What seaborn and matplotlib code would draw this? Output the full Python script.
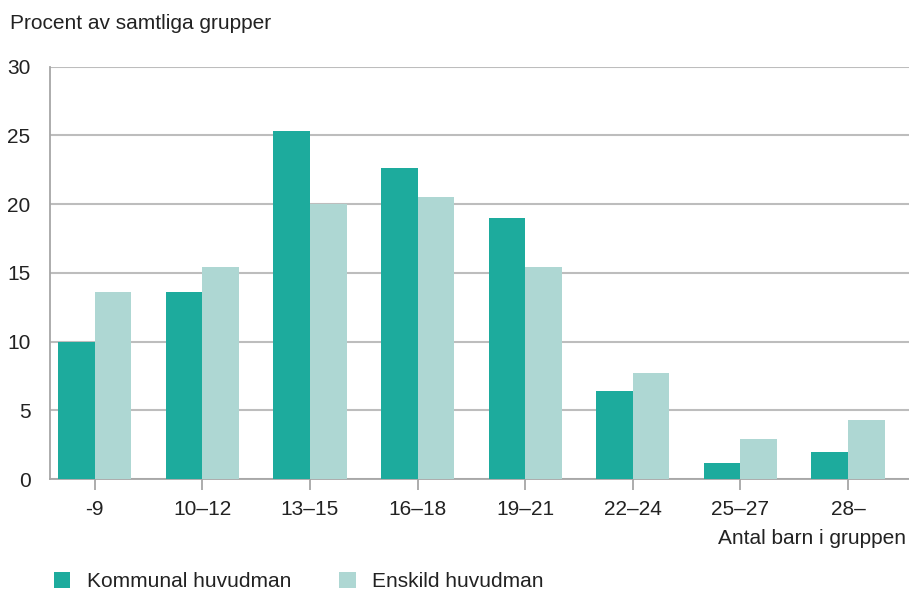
import pandas as pd
import numpy as np
import seaborn as sns
import matplotlib.pyplot as plt
from matplotlib.patches import Patch

categories = ['-9', '10–12', '13–15', '16–18', '19–21', '22–24', '25–27', '28–']
kommunal = [10.0, 13.6, 25.3, 22.6, 19.0, 6.4, 1.2, 2.0]
enskild = [13.6, 15.4, 20.0, 20.5, 15.4, 7.7, 2.9, 4.3]
series_names = ['Kommunal huvudman', 'Enskild huvudman']
colors = ['#1dab9d', '#aed7d3']

df = pd.DataFrame({
    'grupp': categories * 2,
    'procent': kommunal + enskild,
    'huvudman': [series_names[0]] * len(categories) + [series_names[1]] * len(categories),
})

sns.set_style('white')
plt.rcParams['font.family'] = ['Liberation Sans', 'DejaVu Sans']
plt.rcParams['font.size'] = 15
text_color = '#222222'

fig = plt.figure(figsize=(9.09, 5.94), dpi=100)
ax = fig.add_axes([0.055, 0.1936, 0.945, 0.694])

sns.barplot(data=df, x='grupp', y='procent', hue='huvudman', order=categories,
            hue_order=series_names, palette=colors, width=0.68, saturation=1,
            linewidth=0, edgecolor='none', legend=False, ax=ax, zorder=3)

ax.set_ylim(0, 30)
ax.set_yticks(range(0, 31, 5))
ax.set_xlim(-0.416, 7.567)
ax.yaxis.grid(True, color='#bdbdbd', linewidth=1.5, zorder=0)
ax.set_axisbelow(True)
for side in ['top', 'right']:
    ax.spines[side].set_visible(False)
for side in ['left', 'bottom']:
    ax.spines[side].set_color('#a6a6a6')
    ax.spines[side].set_linewidth(1.3)

ax.tick_params(axis='y', length=0, pad=14, labelsize=15, labelcolor=text_color)
ax.tick_params(axis='x', length=8, width=1.3, color='#a6a6a6', pad=7,
               labelsize=15, labelcolor=text_color, bottom=True)
ax.set_xlabel('')
ax.set_ylabel('')

fig.text(0.011, 0.960, 'Procent av samtliga grupper', fontsize=15, color=text_color,
         ha='left', va='center')
fig.text(0.997, 0.094, 'Antal barn i gruppen', fontsize=15, color=text_color,
         ha='right', va='center')

handles = [Patch(facecolor=c, edgecolor='none') for c in colors]
fig.legend(handles, series_names, loc='lower left', bbox_to_anchor=(0.039, -0.027),
           ncol=2, frameon=False, fontsize=15, handlelength=0.78, handleheight=0.78,
           handletextpad=0.8, columnspacing=2.3, labelcolor=text_color)

fig.savefig('out.png', dpi=100)
